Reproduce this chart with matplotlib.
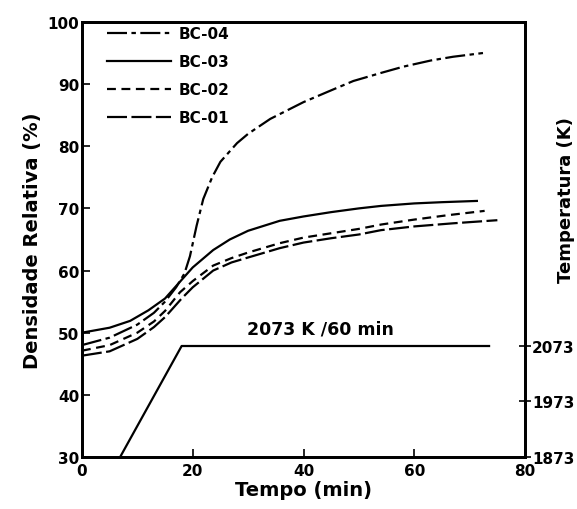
import numpy as np
import matplotlib.pyplot as plt

# relative density (%) vs time (min)
t_bc04 = [0, 5, 10, 13, 15, 17, 18.5, 19.5, 20.7, 21.9, 23.5, 25, 28, 30, 34, 40, 45, 49, 54, 58, 63, 67, 72.4]
d_bc04 = [48, 49.2, 51.3, 53.2, 55, 57.3, 59.5, 62.3, 67.2, 71.5, 75, 77.5, 80.5, 82, 84.4, 87.1, 89, 90.5, 91.8, 92.8, 93.8, 94.4, 95]

t_bc03 = [0, 5, 8.7, 12, 15, 17, 20, 23.7, 26.7, 30, 35.7, 40, 45, 50, 54, 60, 65, 71.3]
d_bc03 = [50, 50.8, 51.9, 53.6, 55.5, 57.5, 60.5, 63.3, 65.0, 66.4, 68, 68.7, 69.4, 70, 70.4, 70.8, 71, 71.2]

t_bc02 = [0, 5, 10, 13, 15, 17.7, 20, 23.7, 27, 30, 35.7, 40, 45, 50, 54, 60, 66, 72.7]
d_bc02 = [47.1, 48, 50, 51.8, 53.5, 56.5, 58.3, 60.8, 62, 62.9, 64.4, 65.3, 66, 66.7, 67.4, 68.2, 68.9, 69.6]

t_bc01 = [0, 5, 10, 13, 15, 18, 20, 23.7, 27, 30, 35.7, 40, 45, 50, 54, 60, 67, 75]
d_bc01 = [46.3, 47, 49, 50.9, 52.5, 55.5, 57.3, 60, 61.3, 62.1, 63.6, 64.5, 65.2, 65.8, 66.5, 67.1, 67.6, 68.1]

# furnace temperature program (K)
t_temp = [6.9, 18, 73.5]
temp = [1873, 2073, 2073]

x_ticks = [0, 20, 40, 60, 80]
y_ticks = [30, 40, 50, 60, 70, 80, 90, 100]
temp_ticks = [1873, 1973, 2073]

plt.rcParams['font.family'] = 'DejaVu Sans'
plt.rcParams['font.weight'] = 'bold'

fig = plt.figure(figsize=(5.77, 5.10), dpi=100)
ax = fig.add_axes([0.142, 0.102, 0.768, 0.853])

lw = 1.6
ax.plot(t_bc04, d_bc04, color='black', lw=lw, dashes=[9, 2, 2, 2], label='BC-04')
ax.plot(t_bc03, d_bc03, color='black', lw=lw, label='BC-03')
ax.plot(t_bc02, d_bc02, color='black', lw=lw, dashes=[4, 2.5], label='BC-02')
ax.plot(t_bc01, d_bc01, color='black', lw=lw, dashes=[9, 2], label='BC-01')

ax.set_xlim(0, 80)
ax.set_ylim(30, 100)
ax.set_xticks(x_ticks)
ax.set_yticks(y_ticks)
ax.tick_params(direction='in', length=6, width=1.2, labelsize=11, pad=2)
ax.tick_params(axis='x', pad=4)
for s in ax.spines.values():
    s.set_linewidth(2)

ax.set_xlabel('Tempo (min)', fontsize=14, fontweight='bold', labelpad=2)
ax.set_ylabel('Densidade Relativa (%)', fontsize=14, fontweight='bold', labelpad=4)

leg = ax.legend(loc='upper left', bbox_to_anchor=(0.035, 1.012), frameon=False,
                fontsize=11, handlelength=4.2, handletextpad=0.5,
                labelspacing=0.85, borderaxespad=0.2)

# second axis for the temperature program
ax2 = ax.twinx()
ax2.plot(t_temp, temp, color='black', lw=1.6)
ax2.set_ylim(1873, 2657)
ax2.set_yticks(temp_ticks)
ax2.tick_params(direction='inout', length=8, width=1.2, labelsize=11, pad=1)
ax2.set_ylabel('Temperatura (K)', fontsize=13, fontweight='bold')
ax2.yaxis.set_label_coords(1.072, 0.593)
for s in ax2.spines.values():
    s.set_linewidth(2)

ax.text(43, 49.2, '2073 K /60 min', fontsize=12.5, fontweight='bold', ha='center', va='bottom')

fig.savefig('out.png', dpi=100)
